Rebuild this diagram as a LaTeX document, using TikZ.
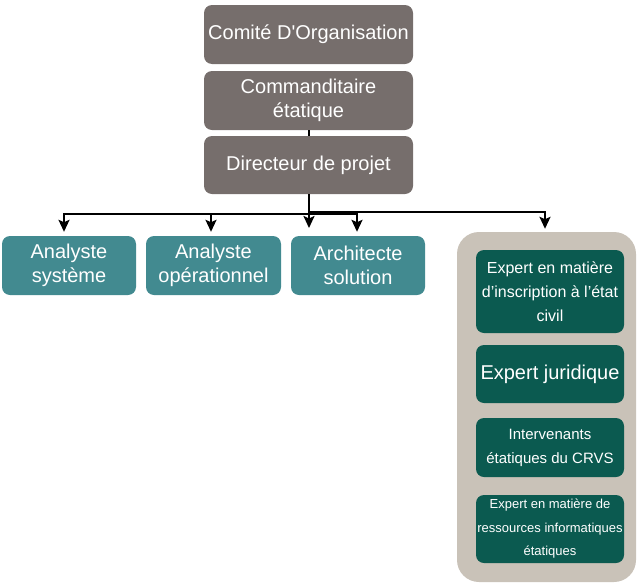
\documentclass[tikz,border=0pt]{standalone}
\usepackage{fontspec}
\setmainfont{Liberation Sans}
\usetikzlibrary{arrows.meta}

\definecolor{grisbrun}{HTML}{766E6C}
\definecolor{sarcelle}{HTML}{428A90}
\definecolor{beige}{HTML}{C9C2B8}
\definecolor{vertfonce}{HTML}{0B5A50}

\begin{document}
\begin{tikzpicture}[
  x=1pt,y=-1pt,
  font=\fontsize{20}{24}\selectfont,
  direction/.style={fill=grisbrun,text=white,rounded corners=8pt,
    align=center,minimum width=209pt,minimum height=59pt,inner sep=0pt},
  analyste/.style={fill=sarcelle,text=white,rounded corners=8pt,
    align=center,minimum width=134pt,minimum height=59pt,inner sep=0pt},
  groupe/.style={fill=beige,rounded corners=22pt,
    minimum width=179pt,minimum height=350pt,inner sep=0pt},
  expert/.style={fill=vertfonce,text=white,rounded corners=8pt,
    align=center,minimum width=148pt,inner sep=0pt},
  ligne/.style={line width=2.2pt,draw=black},
  fleche/.style={ligne,-{Stealth[length=12pt,width=11pt,inset=2.5pt]}}
]
\useasboundingbox (0,0) rectangle (638,584);
\node[direction] (comite) at (308.5,34.5) {Comité D\textquotesingle Organisation};
\node[direction] (commanditaire) at (308.5,100.5) {Commanditaire\\étatique};
\node[direction,minimum height=58pt] (directeur) at (308.5,165) {Directeur de projet};
\node[analyste] (systeme) at (69,265.5) {Analyste\\système};
\node[analyste,minimum width=135pt] (operationnel) at (213.5,265.5) {Analyste\\opérationnel};
\node[analyste] (architecte) at (358,265.5) {Architecte\\solution};
\node[groupe] (experts) at (546.5,407) {};
\node[expert,minimum height=83pt,font=\fontsize{16}{24}\selectfont] (civil) at (550,291.5)
  {Expert en matière\\d’inscription à l’état\\civil};
\node[expert,minimum height=58pt] (juridique) at (550,374) {Expert juridique};
\node[expert,minimum height=59pt,font=\fontsize{15}{24}\selectfont] (crvs) at (550,447.5)
  {Intervenants\\étatiques du CRVS};
\node[expert,minimum height=68pt,font=\fontsize{13}{23.5}\selectfont] (informatique) at (550,529)
  {Expert en matière de\\ressources informatiques\\étatiques};
\coordinate (jonction) at (309,214);
\coordinate (jonctionhaut) at (309,212);
\coordinate (libre) at (309,228);
\draw[ligne] (commanditaire.south -| 309,0) -- (directeur.north -| 309,0);
\draw[ligne] (directeur.south -| 309,0) -- (jonction);
\draw[fleche] (jonction) -| ([yshift=4pt]systeme.north -| 64,0);
\draw[fleche] (jonction) -| ([yshift=4pt]operationnel.north -| 211,0);
\draw[fleche] (jonction) -- (libre);
\draw[fleche] (jonction) -| ([yshift=4pt]architecte.north -| 357,0);
\draw[fleche] (jonctionhaut) -| ([yshift=3pt]experts.north -| 545,0);
\end{tikzpicture}
\end{document}
